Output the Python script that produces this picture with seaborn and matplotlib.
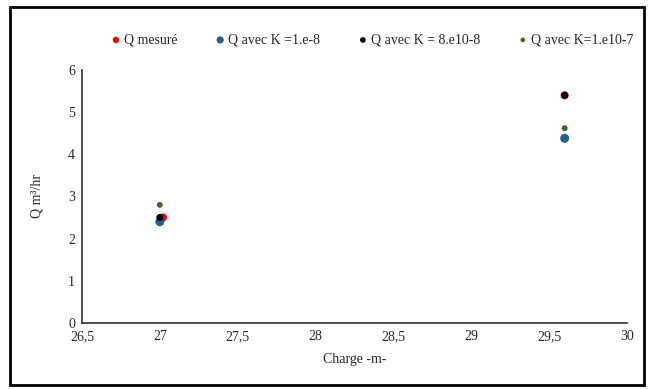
import pandas as pd
import seaborn as sns
import matplotlib.pyplot as plt
from matplotlib.patches import Rectangle
from matplotlib.ticker import FuncFormatter

# values
charge_mesure = [27.02, 29.6]
q_mesure = [2.5, 5.4]
charge = [27.0, 29.6]
q_k1e8 = [2.4, 4.38]
q_k8e10 = [2.5, 5.4]
q_k1e10_7 = [2.8, 4.62]

labels = ['Q mesuré', 'Q avec K =1.e-8', 'Q avec K = 8.e10-8', 'Q avec K=1.e10-7']
colors = ['#FF0000', '#255E91', '#000000', '#43682B']
sizes = [34, 42, 26, 18]

sns.set_style('white')
plt.rcParams['font.family'] = ['Liberation Serif', 'DejaVu Serif']
plt.rcParams['font.size'] = 10

fig = plt.figure(figsize=(6.48, 3.89), dpi=100)
ax = fig.add_axes([0.1265, 0.170, 0.841, 0.650])

series = [
    (charge_mesure, q_mesure),
    (charge, q_k1e8),
    (charge, q_k8e10),
    (charge, q_k1e10_7),
]
for (x, y), lab, col, s in zip(series, labels, colors, sizes):
    df = pd.DataFrame({'x': x, 'y': y})
    sns.scatterplot(data=df, x='x', y='y', ax=ax, color=col, s=s,
                    edgecolor='none', label=lab)

ax.set_xlim(26.5, 30)
ax.set_ylim(0, 6)
ax.set_xticks([26.5, 27, 27.5, 28, 28.5, 29, 29.5, 30])
ax.set_yticks(range(0, 7))
ax.xaxis.set_major_formatter(FuncFormatter(lambda v, p: f'{v:g}'.replace('.', ',')))
ax.tick_params(length=0, labelsize=10, pad=5)
ax.set_xlabel('Charge -m-', fontsize=10, labelpad=7)
ax.set_ylabel('Q m³/hr', fontsize=10, labelpad=18)
sns.despine(ax=ax)
for side in ['left', 'bottom']:
    ax.spines[side].set_color('#303030')
    ax.spines[side].set_linewidth(1.2)

ax.legend_.remove()
handles, labs = ax.get_legend_handles_labels()
fig.legend(handles, labs, ncol=4, loc='center', bbox_to_anchor=(0.574, 0.897),
           frameon=False, fontsize=10, handletextpad=0.2, columnspacing=2.65,
           markerscale=0.8, handlelength=0.8)

fig.patches.append(Rectangle((0.016, 0.01), 0.978, 0.972, transform=fig.transFigure,
                             fill=False, edgecolor='black', linewidth=2))

fig.savefig('out.png', dpi=100)
